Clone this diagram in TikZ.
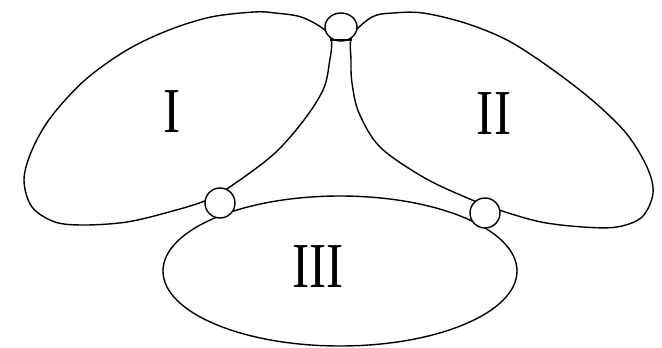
\documentclass[tikz,border=0pt]{standalone}
\usepackage{fontspec}
\setmainfont{Liberation Serif}
\begin{document}
\begin{tikzpicture}[x=1pt,y=-1pt,line width=1.4pt,
  outline/.style={draw=black,line join=round},
  lbl/.style={font=\fontsize{64}{70}\selectfont,inner sep=0pt}]
\useasboundingbox (0,0) rectangle (662,348);
% shape I
\draw[outline] plot[smooth cycle,tension=0.55] coordinates{
 (330,36) (304,18) (275,13) (254,12) (211,17) (169,30) (127,50) (85,80)
 (51,117) (32,150) (24,180) (32,207) (55,222) (85,225) (127,222) (169,212)
 (207,200) (237,182) (275,153) (304,120) (323,90) (329,65)};
% shape II
\draw[outline] plot[smooth cycle,tension=0.55] coordinates{
 (352,36) (372,17) (393,13) (423,13) (465,23) (507,40) (549,67) (592,100)
 (626,133) (647,167) (653,193) (642,217) (617,227) (583,227) (541,222)
 (499,210) (465,197) (423,177) (380,147) (359,113) (352,83) (351,60)};
% shape III
\draw[outline,fill=white] (340,271) ellipse[x radius=177,y radius=75];
% small circles
\draw[outline,fill=white] (341,27) ellipse[x radius=16,y radius=14];
\draw[outline] (330,40) -- (352,40);
\draw[outline,fill=white] (220,203) circle[radius=15];
\draw[outline,fill=white] (485,213) circle[radius=15];
% labels
\node[lbl] (l1) at (172,112) {\scalebox{0.8}[1]{I}};
\node[lbl] (l2) at (494,114) {\scalebox{0.8}[1]{II}};
\node[lbl] (l3) at (318,267) {\scalebox{0.8}[1]{III}};
\end{tikzpicture}
\end{document}
